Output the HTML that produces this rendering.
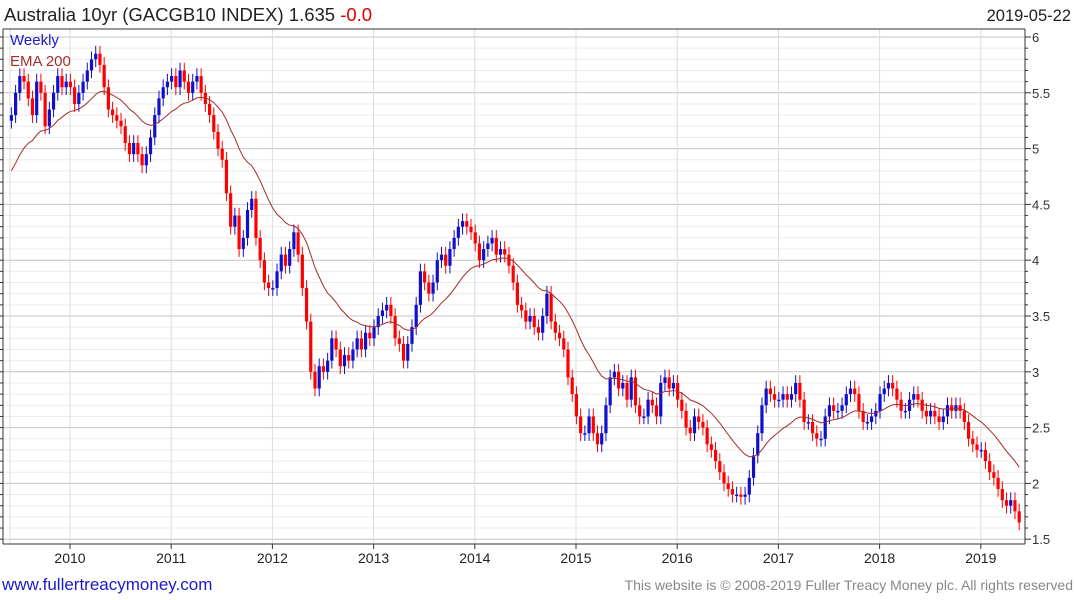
<!DOCTYPE html>
<html><head><meta charset="utf-8"><style>
body{margin:0;background:#fff;font-family:"Liberation Sans",sans-serif}
svg{display:block}
</style></head><body>
<svg id="c" width="1075" height="600" xmlns="http://www.w3.org/2000/svg" font-family="Liberation Sans, sans-serif">
<text x="4" y="21" font-size="18.5" fill="#222">Australia 10yr (GACGB10 INDEX) 1.635 <tspan fill="#e00000">-0.0</tspan></text>
<text x="1071" y="21" font-size="16.5" fill="#222" text-anchor="end">2019-05-22</text>
<g id="grid"></g>
<g id="bars"></g>
<path id="ema" fill="none" stroke="#a52a2a" stroke-width="1"/>
<g id="axes"></g>
<text x="10" y="45" font-size="15" fill="#1a1acc">Weekly</text>
<text x="10" y="66" font-size="15" fill="#a03030">EMA 200</text>
<text x="2" y="590" font-size="17" fill="#1a1acc">www.fullertreacymoney.com</text>
<text x="1073" y="590" font-size="14" fill="#888" text-anchor="end">This website is © 2008-2019 Fuller Treacy Money plc. All rights reserved</text>
</svg>
<script>
const closes2009=[5.3,5.5,5.65,5.6,5.45,5.3,5.6,5.5,5.2,5.35,5.5,5.65,5.55,5.6];
const closes2010=[5.55,5.4,5.5,5.6,5.7,5.8,5.85,5.75,5.55,5.35,5.3,5.25,5.2,5.05,4.95,5.05,4.95,4.85,4.95,5.1,5.3,5.45,5.55,5.6];
const closes2011=[5.65,5.55,5.7,5.6,5.5,5.6,5.65,5.5,5.4,5.3,5.15,5.0,4.9,4.6,4.3,4.4,4.1,4.2,4.45,4.55,4.2,4.0,3.8,3.75];
const closes2012=[3.75,3.9,4.05,3.95,4.1,4.25,4.05,3.75,3.45,3.0,2.85,3.05,3.0,3.1,3.3,3.2,3.05,3.15,3.1,3.2,3.3,3.2,3.35,3.3];
const closes2013=[3.4,3.5,3.55,3.6,3.5,3.3,3.25,3.1,3.25,3.4,3.6,3.9,3.8,3.7,3.8,4.0,4.05,3.95,4.1,4.2,4.3,4.35,4.3,4.25];
const closes2014=[4.15,4.0,4.1,4.15,4.2,4.05,4.1,4.05,3.95,3.8,3.6,3.55,3.45,3.5,3.4,3.35,3.5,3.7,3.45,3.35,3.3,3.2,2.95,2.8];
const closes2015=[2.6,2.45,2.45,2.6,2.45,2.35,2.45,2.7,2.95,3.0,2.85,2.9,2.75,2.95,2.7,2.6,2.6,2.75,2.7,2.6,2.9,2.95,2.85,2.9];
const closes2016=[2.75,2.65,2.5,2.45,2.6,2.55,2.5,2.35,2.3,2.2,2.1,2.0,1.95,1.9,1.9,1.88,1.9,2.05,2.25,2.45,2.7,2.85,2.8,2.75];
const closes2017=[2.75,2.8,2.75,2.8,2.9,2.75,2.55,2.55,2.45,2.4,2.4,2.6,2.7,2.65,2.65,2.7,2.8,2.85,2.8,2.65,2.55,2.55,2.6,2.65];
const closes2018=[2.8,2.85,2.9,2.85,2.75,2.65,2.65,2.75,2.8,2.75,2.65,2.6,2.65,2.6,2.55,2.6,2.7,2.65,2.7,2.65,2.55,2.4,2.35,2.3];
const closes2019=[2.3,2.2,2.1,2.05,1.95,1.85,1.8,1.85,1.75,1.65];
const yTicks=[1.5,2,2.5,3,3.5,4,4.5,5,5.5,6];
const yTickLabels=["1.5","2","2.5","3","3.5","4","4.5","5","5.5","6"];
const xYears=[2010,2011,2012,2013,2014,2015,2016,2017,2018,2019];
const emaStart=4.75;

const closes=[].concat(closes2009,closes2010,closes2011,closes2012,closes2013,closes2014,closes2015,closes2016,closes2017,closes2018,closes2019);
const NS="http://www.w3.org/2000/svg";
const L=3,R=1025,T=29,B=544;
function X(t){return 70+(t-2010)*101.2;}
function Y(v){return 37+(6-v)*111.6;}
function mk(tag,attrs,parent){const e=document.createElementNS(NS,tag);for(const k in attrs)e.setAttribute(k,attrs[k]);parent.appendChild(e);return e;}
const grid=document.getElementById('grid'),axes=document.getElementById('axes'),bars=document.getElementById('bars');
for(let k=15;k<=60;k++){const v=k/10;const major=k%5===0;
 const g=mk('line',{x1:L,x2:R,y1:Y(v),y2:Y(v),stroke:major?'#c4c4c4':'#ececec','stroke-width':1},grid);
 
 
 mk('line',{x1:R,x2:R+(major?6:3),y1:Y(v),y2:Y(v),stroke:'#333'},axes);
 mk('line',{x1:L,x2:L-3,y1:Y(v),y2:Y(v),stroke:'#333'},axes);
}
yTicks.forEach((v,i)=>{const t=mk('text',{x:R+7,y:Y(v)+5,'font-size':13,fill:'#333'},axes);t.textContent=yTickLabels[i];
 
 });
mk('line',{x1:10,x2:10,y1:T,y2:B,stroke:'#dcdcdc'},grid);
xYears.forEach(yr=>{const x=X(yr);
 const l=mk('line',{x1:x,x2:x,y1:T,y2:B,stroke:'#dcdcdc'},grid);
 
 
 mk('line',{x1:x,x2:x,y1:B,y2:B+5,stroke:'#333'},axes);
 const t=mk('text',{x:x,y:563,'font-size':14,fill:'#222','text-anchor':'middle'},axes);t.textContent=yr;
 
 });
mk('line',{x1:L,x2:L,y1:T,y2:B,stroke:'#333'},axes);
mk('line',{x1:R,x2:R,y1:T,y2:B,stroke:'#333'},axes);
mk('line',{x1:L,x2:R,y1:B,y2:B,stroke:'#333'},axes);
mk('line',{x1:L,x2:R,y1:T,y2:T,stroke:'#333'},axes);

let ema=emaStart,pts=[];const a=2/21;
closes.forEach((c,i)=>{
 const t=2009.4+i/24+1/48;const x=X(t);
 const o=i?closes[i-1]:c-0.05;
 const hi=Math.max(o,c)+0.07,lo=Math.min(o,c)-0.07;
 const col=c>=o?'#1010cc':'#ff0000';
 const g=mk('g',{},bars);
 
 
 mk('line',{x1:x,x2:x,y1:Y(hi),y2:Y(lo),stroke:col,'stroke-width':1},g);
 const y1=Y(Math.max(o,c)),y2=Y(Math.min(o,c));
 mk('rect',{x:x-1.6,y:y1,width:3.2,height:Math.max(1.5,y2-y1),fill:col},g);
 ema=ema+a*(c-ema);pts.push(x.toFixed(1)+','+Y(ema).toFixed(1));
});
document.getElementById('ema').setAttribute('d','M'+pts.join('L'));
</script>
</body></html>
